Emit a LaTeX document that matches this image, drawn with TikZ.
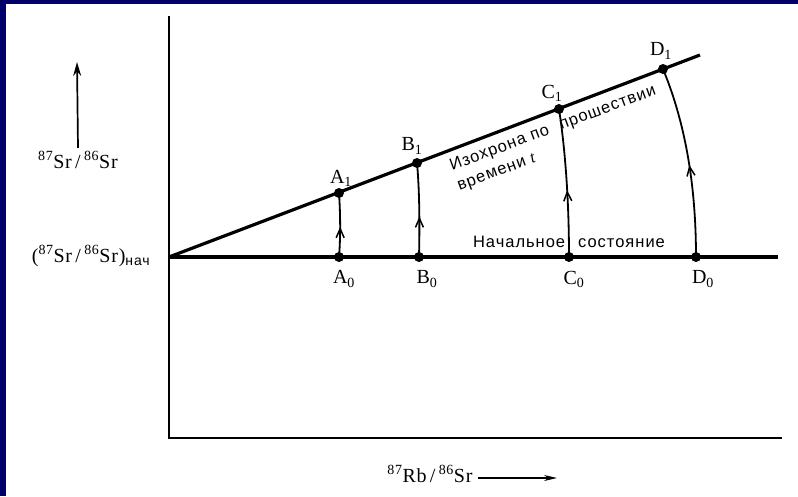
\documentclass[tikz,border=0pt]{standalone}
\usepackage{fontspec}
\setmainfont[LetterSpace=4]{Liberation Serif}
\newfontfamily\rufont[LetterSpace=6]{Liberation Sans}
\usetikzlibrary{arrows.meta,decorations.markings}
\definecolor{frameblue}{HTML}{000068}
\newcommand{\srratio}{\textsuperscript{87}Sr\,/\,\textsuperscript{86}Sr}

\tikzset{
  dot/.style={circle, fill, inner sep=0pt, minimum size=10pt},
  track/.style={line width=1.8pt, postaction={decorate},
    decoration={markings, mark=at position #1 with {\arrow{Straight Barb[length=9pt,width=8pt,line width=1.5pt]}}}},
  rulabel/.style={font=\rufont\fontsize{16.5}{21}\selectfont, inner sep=0pt},
}

\begin{document}
\begin{tikzpicture}[x=1pt, y=-1pt, >={Stealth[length=14pt,width=8pt]}, font=\fontsize{20}{22}\selectfont]
        % frame
        \fill[frameblue] (0,0) rectangle (798,496);
        \fill[white] (6,4) rectangle (798,496);
        \useasboundingbox (0,0) rectangle (798,496);

        % axes
        \coordinate (top)    at (169,16);
        \coordinate (corner) at (169,438);
        \coordinate (right)  at (782,438);
        \draw[line width=1.8pt] (top) -- (corner) -- (right);

        % initial state and isochron
        \coordinate (O)    at (169,257);
        \coordinate (base) at (778,257);
        \coordinate (iso)  at (700,55);
        \draw[line width=3.2pt] (O) -- (base);
        \draw[line width=3.2pt] (O) -- (iso);

        \node[dot] (A0) at (339,257) {};
        \node[dot] (B0) at (419,257) {};
        \node[dot] (C0) at (569,257) {};
        \node[dot] (D0) at (696,257) {};
        \node[dot] (A1) at (339,193) {};
        \node[dot] (B1) at (417,163) {};
        \node[dot] (C1) at (559,109) {};
        \node[dot] (D1) at (663,69) {};

        \draw[track=0.47] (A0.center) .. controls (341,232) and (340,208) .. (A1.center);
        \draw[track=0.43] (B0.center) .. controls (420,215) and (419,185) .. (B1.center);
        \draw[track=0.45] (C0.center) .. controls (569,185) and (563,135) .. (C1.center);
        \draw[track=0.48] (D0.center) .. controls (696,175) and (682,115) .. (D1.center);

        % point labels
        \node (lA1) at (341,178) {A\textsubscript{1}};
        \node (lB1) at (412,146) {B\textsubscript{1}};
        \node (lC1) at (552,93)  {C\textsubscript{1}};
        \node (lD1) at (661,51)  {D\textsubscript{1}};
        \node (lA0) at (344,279) {A\textsubscript{0}};
        \node (lB0) at (427,279) {B\textsubscript{0}};
        \node (lC0) at (574,279) {C\textsubscript{0}};
        \node (lD0) at (703,279) {D\textsubscript{0}};

        % curve labels
        \node[rulabel, anchor=base] (init) at (569,247) {Начальное\hspace{13pt}состояние};
        \node[rulabel, anchor=north west, rotate=20.5, align=left] (isochron) at (448,160)
          {Изохрона по\hspace{12pt}прошествии\\времени {\rmfamily\itshape t}};

        % axis labels
        \node (ylab) at (78,160) {\srratio};
        \coordinate (ytip) at (77,62);
        \draw[->, line width=1.7pt] (ylab.north) -- (ytip);
        \node (init0) at (91,256) {(\srratio)\textsubscript{\rufont нач}};
        \node (xlab) at (430,474) {\textsuperscript{87}Rb\,/\,\textsuperscript{86}Sr};
        \coordinate (xtip) at (557,478);
        \draw[->, line width=1.5pt, >={Stealth[length=13pt,width=6pt]}] (xlab.east |- xtip) ++(2,0) -- (xtip);
    \end{tikzpicture}
\end{document}
